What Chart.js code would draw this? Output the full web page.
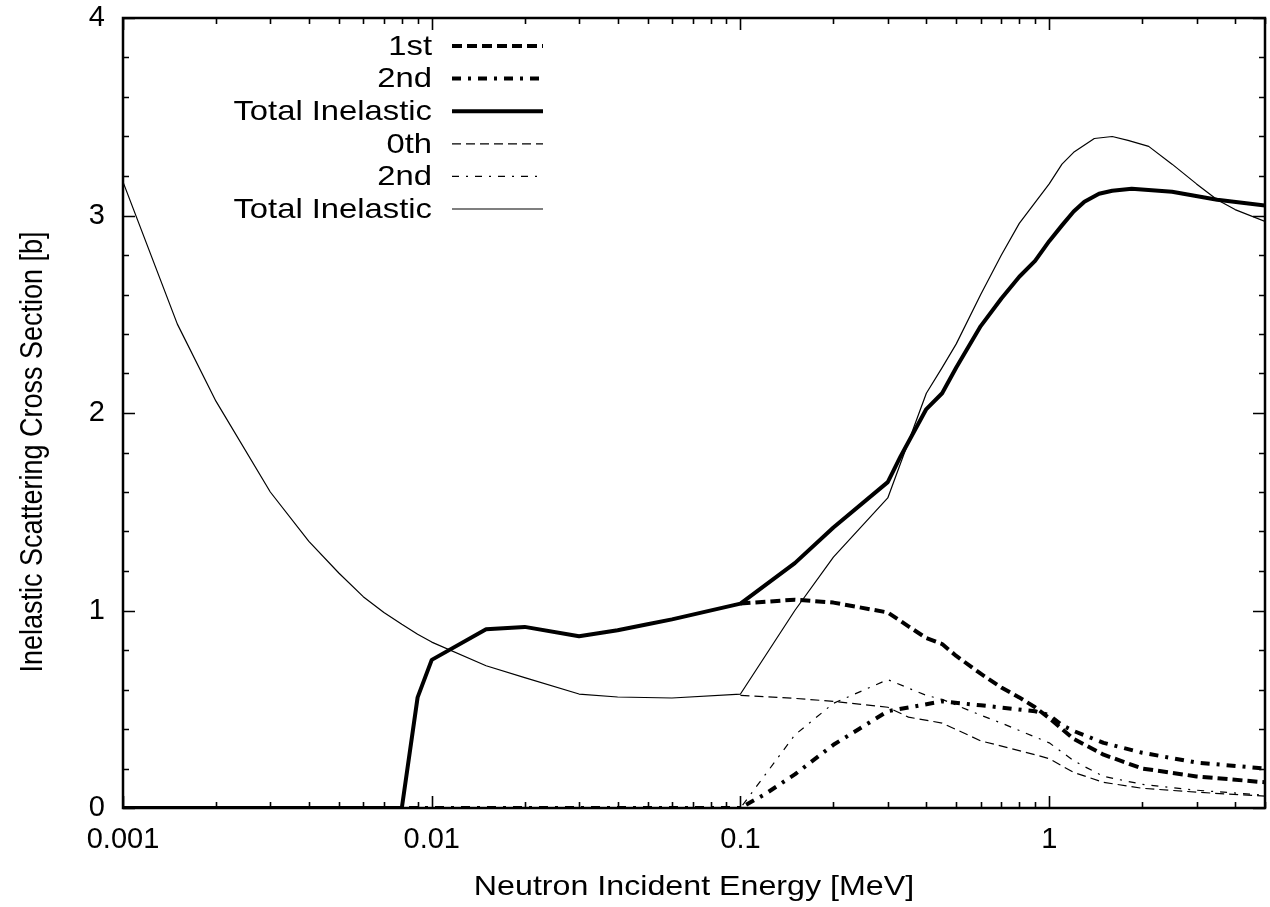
<!DOCTYPE html>
<html>
<head>
<meta charset="utf-8">
<script src="https://cdn.jsdelivr.net/npm/chart.js@4.4.1/dist/chart.umd.min.js"></script>
<style>
  html, body { margin: 0; padding: 0; background: #fff; }
  #wrap { width: 1270px; height: 907px; }
</style>
</head>
<body>
<div id="wrap"><canvas id="chart" width="1270" height="907"></canvas></div>
<script>
// energies [MeV] and cross sections [b]
const totalThickE = [0.001, 0.008, 0.009, 0.01, 0.015, 0.02, 0.03, 0.04, 0.05, 0.06, 0.1, 0.15, 0.2, 0.3, 0.33, 0.4, 0.45, 0.5, 0.6, 0.7, 0.8, 0.9, 1.0, 1.1, 1.2, 1.3, 1.45, 1.6, 1.85, 2.5, 3.5, 5];
const totalThickV = [0, 0, 0.56, 0.75, 0.905, 0.917, 0.87, 0.9, 0.93, 0.955, 1.035, 1.24, 1.42, 1.65, 1.78, 2.02, 2.1, 2.23, 2.44, 2.58, 2.69, 2.77, 2.87, 2.95, 3.02, 3.07, 3.11, 3.125, 3.135, 3.12, 3.08, 3.05];

const firstE = [0.1, 0.15, 0.2, 0.3, 0.35, 0.4, 0.45, 0.5, 0.6, 0.7, 0.8, 0.9, 1.0, 1.1, 1.2, 1.5, 2, 3, 5];
const firstV = [1.035, 1.055, 1.04, 0.99, 0.92, 0.86, 0.83, 0.77, 0.68, 0.61, 0.56, 0.51, 0.455, 0.4, 0.35, 0.27, 0.2, 0.16, 0.13];

const secondThickE = [0.001, 0.1, 0.12, 0.15, 0.2, 0.3, 0.45, 0.6, 0.9, 1.0, 1.1, 1.2, 1.5, 2, 3, 5];
const secondThickV = [0, 0, 0.07, 0.17, 0.32, 0.49, 0.54, 0.52, 0.49, 0.47, 0.42, 0.39, 0.33, 0.28, 0.23, 0.2];

const zerothE = [0.1, 0.15, 0.2, 0.3, 0.35, 0.45, 0.6, 0.9, 1.0, 1.2, 1.5, 2, 3, 5];
const zerothV = [0.57, 0.555, 0.54, 0.51, 0.46, 0.43, 0.34, 0.27, 0.25, 0.18, 0.13, 0.1, 0.08, 0.06];

const secondThinE = [0.001, 0.1, 0.15, 0.2, 0.3, 0.4, 0.45, 0.6, 0.7, 1.0, 1.2, 1.3, 1.5, 2, 3, 5];
const secondThinV = [0, 0, 0.37, 0.53, 0.65, 0.57, 0.55, 0.47, 0.43, 0.33, 0.24, 0.21, 0.16, 0.12, 0.09, 0.065];

const totalThinE = [0.001, 0.0015, 0.002, 0.003, 0.004, 0.005, 0.006, 0.007, 0.008, 0.009, 0.01, 0.015, 0.02, 0.03, 0.04, 0.06, 0.1, 0.15, 0.2, 0.3, 0.4, 0.45, 0.5, 0.6, 0.7, 0.8, 1.0, 1.1, 1.2, 1.4, 1.6, 1.8, 2.1, 2.5, 3, 3.5, 4, 5];
const totalThinV = [3.17, 2.45, 2.06, 1.6, 1.35, 1.19, 1.07, 0.99, 0.93, 0.88, 0.84, 0.72, 0.66, 0.577, 0.562, 0.557, 0.577, 1.0, 1.27, 1.57, 2.1, 2.23, 2.35, 2.6, 2.8, 2.96, 3.16, 3.26, 3.32, 3.39, 3.4, 3.38, 3.35, 3.26, 3.16, 3.08, 3.03, 2.97];

const xMajorTicks = [0.001, 0.01, 0.1, 1];
const yTicks = [0, 1, 2, 3, 4];

const FONT = '"Liberation Sans", Arial, Helvetica, sans-serif';
const STRETCH = 1.15;

const toPoints = (xs, ys) => xs.map((x, i) => ({ x, y: ys[i] }));

const mkSet = (label, xs, ys, width, dash) => ({
    label,
    data: toPoints(xs, ys),
    borderColor: '#000',
    backgroundColor: '#000',
    borderWidth: width,
    borderDash: dash,
    borderCapStyle: 'butt',
    borderJoinStyle: 'round',
    pointRadius: 0,
    tension: 0,
    fill: false,
});

const datasets = [
    mkSet('1st', firstE, firstV, 4, [10, 5]),
    mkSet('2nd', secondThickE, secondThickV, 4, [9, 7, 3, 7]),
    mkSet('Total Inelastic', totalThickE, totalThickV, 4, []),
    mkSet('0th', zerothE, zerothV, 1.2, [9, 5]),
    mkSet('2nd', secondThinE, secondThinV, 1.2, [7, 7, 2, 7]),
    mkSet('Total Inelastic', totalThinE, totalThinV, 1.2, []),
];

// frame, inward ticks, legend and axis titles
const decorPlugin = {
    id: 'decor',
    afterDraw(chart) {
        const ctx = chart.ctx;
        const a = chart.chartArea;
        const xs = chart.scales.x;
        const ys = chart.scales.y;
        ctx.save();
        ctx.strokeStyle = '#000';
        ctx.lineWidth = 1.6;
        // x ticks
        for (let d = -3; d <= 0; d++) {
            for (let m = 1; m <= 9; m++) {
                const v = m * Math.pow(10, d);
                if (v > 5.0001) break;
                const px = Math.round(xs.getPixelForValue(v)) + 0.5;
                const len = m === 1 ? 12 : 6;
                ctx.beginPath();
                ctx.moveTo(px, a.bottom); ctx.lineTo(px, a.bottom - len);
                ctx.moveTo(px, a.top); ctx.lineTo(px, a.top + len);
                ctx.stroke();
            }
        }
        // y ticks
        for (let i = 0; i <= 20; i++) {
            const v = i * 0.2;
            const py = Math.round(ys.getPixelForValue(v)) + 0.5;
            const len = i % 5 === 0 ? 12 : 6;
            ctx.beginPath();
            ctx.moveTo(a.left, py); ctx.lineTo(a.left + len, py);
            ctx.moveTo(a.right, py); ctx.lineTo(a.right - len, py);
            ctx.stroke();
        }
        ctx.lineWidth = 2.5;
        ctx.strokeRect(a.left, a.top, a.right - a.left, a.bottom - a.top);

        // legend
        ctx.fillStyle = '#000';
        ctx.font = '28.5px ' + FONT;
        ctx.textBaseline = 'middle';
        chart.data.datasets.forEach((ds, i) => {
            const y = 46 + i * 32.6;
            ctx.save();
            ctx.translate(432, y + 1);
            ctx.scale(STRETCH, 1);
            ctx.textAlign = 'right';
            ctx.fillText(ds.label, 0, 0);
            ctx.restore();
            ctx.save();
            ctx.lineWidth = ds.borderWidth;
            ctx.lineCap = 'butt';
            ctx.setLineDash(ds.borderDash);
            ctx.beginPath();
            ctx.moveTo(452, y); ctx.lineTo(543, y);
            ctx.stroke();
            ctx.restore();
        });

        // axis titles
        ctx.font = '28px ' + FONT;
        ctx.textBaseline = 'alphabetic';
        ctx.textAlign = 'center';
        ctx.save();
        ctx.translate((a.left + a.right) / 2, 895);
        ctx.scale(STRETCH, 1);
        ctx.fillText('Neutron Incident Energy [MeV]', 0, 0);
        ctx.restore();
        ctx.save();
        ctx.translate(42, 452);
        ctx.rotate(-Math.PI / 2);
        ctx.scale(1, STRETCH);
        ctx.font = '27px ' + FONT;
        ctx.fillText('Inelastic Scattering Cross Section [b]', 0, 0);
        ctx.restore();
        ctx.restore();
    }
};

const ctx = document.getElementById('chart').getContext('2d');
new Chart(ctx, {
    type: 'line',
    data: { datasets },
    plugins: [decorPlugin],
    options: {
        responsive: false,
        animation: false,
        layout: { padding: { top: 18, right: 5, left: 0, bottom: 0 } },
        plugins: { legend: { display: false }, tooltip: { enabled: false } },
        scales: {
            x: {
                type: 'logarithmic',
                min: 0.001,
                max: 5,
                grid: { display: false, drawTicks: false },
                border: { display: false },
                afterBuildTicks: (s) => { s.ticks = xMajorTicks.map(v => ({ value: v })); },
                afterFit: (s) => { s.height = 99; s.paddingRight = 0; },
                ticks: {
                    autoSkip: false,
                    maxRotation: 0,
                    padding: 15,
                    color: '#000',
                    font: { family: FONT, size: 29 },
                    callback: (v) => String(v),
                },
            },
            y: {
                type: 'linear',
                min: 0,
                max: 4,
                grid: { display: false, drawTicks: false },
                border: { display: false },
                afterBuildTicks: (s) => { s.ticks = yTicks.map(v => ({ value: v })); },
                afterFit: (s) => { s.width = 123; s.paddingTop = 0; s.paddingBottom = 0; },
                ticks: {
                    padding: 18,
                    color: '#000',
                    font: { family: FONT, size: 29 },
                    callback: (v) => String(v),
                },
            },
        },
    },
});
</script>
</body>
</html>
